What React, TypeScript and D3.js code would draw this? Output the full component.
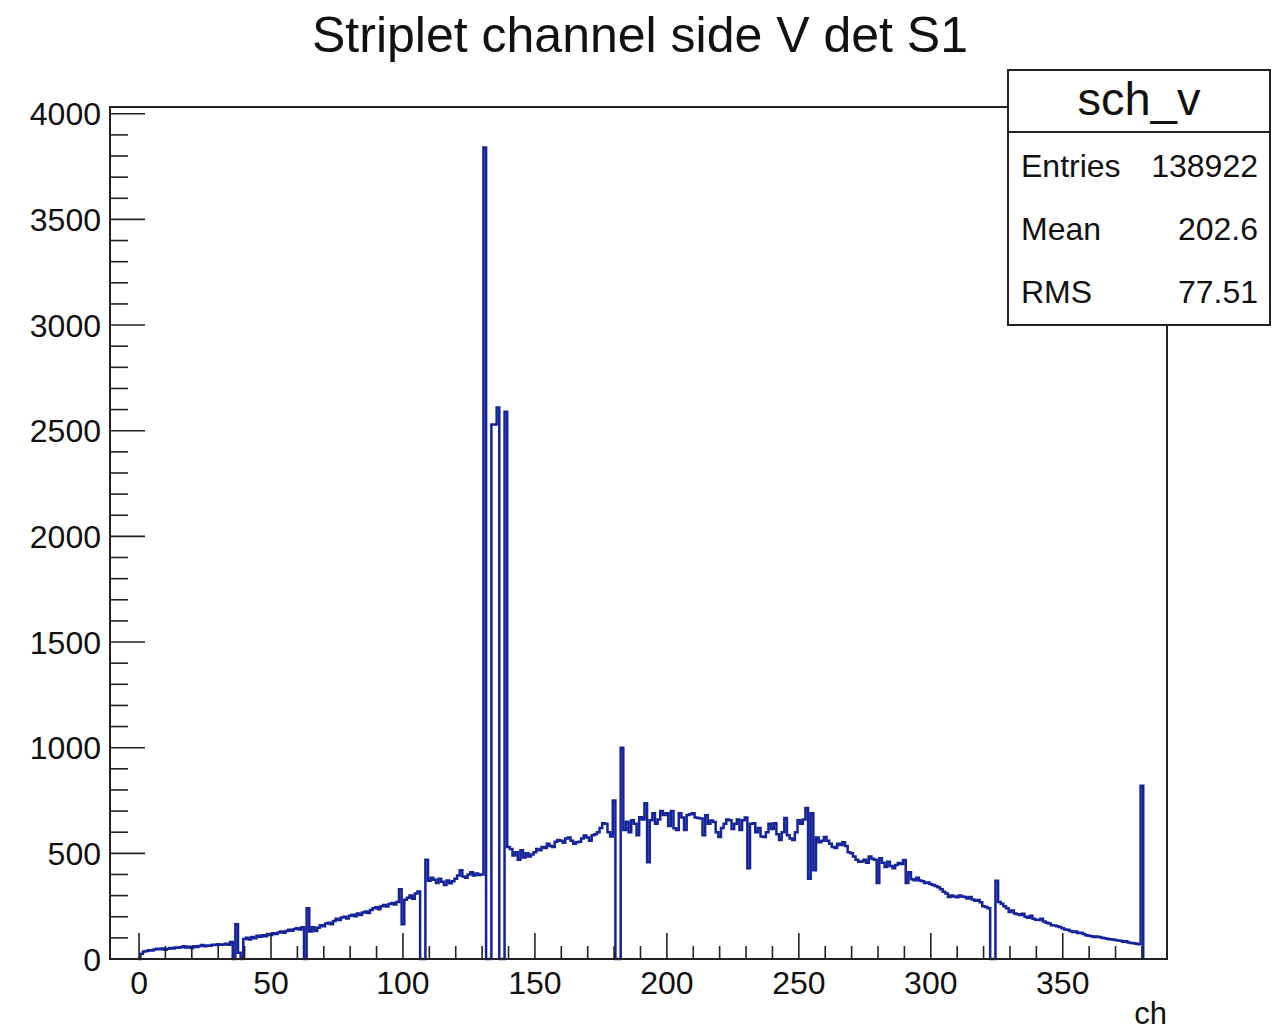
import React from "react";
import * as d3 from "d3";

const title = "Striplet channel side V det S1";
const histName = "sch_v";
const statLabels = ["Entries", "Mean", "RMS"];
const statValues = ["138922", "202.6", "77.51"];
const xTicksMajor = [0, 50, 100, 150, 200, 250, 300, 350];
const yTicksMajor = [0, 500, 1000, 1500, 2000, 2500, 3000, 3500, 4000];
const xTitle = "ch";

// counts per channel, channel 0 .. 380
const counts = [
  0, 25, 35, 38, 42, 40, 45, 48, 46, 50,
  44, 48, 52, 50, 55, 53, 56, 60, 54, 58,
  52, 60, 57, 62, 66, 60, 64, 63, 68, 66,
  70, 67, 69, 72, 68, 80, 0, 165, 30, 0,
  95, 100, 92, 104, 98, 110, 105, 112, 108, 118,
  114, 122, 118, 126, 130, 124, 132, 138, 134, 142,
  146, 140, 150, 0, 240, 130, 150, 132, 148, 160,
  155, 168, 172, 165, 180, 190, 185, 196, 200, 192,
  205, 210, 202, 215, 208, 220, 225, 218, 232, 240,
  245, 236, 250, 255, 248, 260, 265, 258, 270, 330,
  165, 280, 290, 300, 285, 310, 320, 0, 0, 470,
  370, 385, 375, 360, 380, 365, 350, 372, 358, 368,
  380, 395, 420, 390, 385, 400, 410, 395, 405, 398,
  400, 3840, 0, 0, 2530, 2530, 2610, 0, 0, 2590,
  530, 520, 490, 505, 470, 515, 480, 500, 485, 495,
  505, 520, 515, 530, 525, 545, 535, 530, 555, 563,
  560, 550, 570, 575, 560, 545, 553, 555, 570, 585,
  575, 560, 586, 590, 600, 620, 642, 640, 600, 580,
  750, 0, 0, 1000, 610, 650, 600, 657, 640, 586,
  671, 660, 737, 458, 657, 690, 640, 660, 700, 681,
  690, 630, 700, 619, 610, 690, 670, 610, 681, 685,
  690, 670, 667, 665, 586, 680, 640, 655, 648, 600,
  577, 620, 640, 660, 657, 615, 640, 660, 610, 657,
  670, 430, 640, 643, 600, 620, 580, 577, 600, 640,
  615, 643, 590, 563, 600, 667, 586, 570, 563, 600,
  657, 640, 660, 715, 380, 690, 420, 575, 553, 560,
  577, 560, 545, 530, 525, 545, 540, 553, 535, 505,
  500, 485, 470, 460, 462, 470, 455, 485, 475, 470,
  360, 477, 455, 435, 460, 440, 430, 445, 454, 450,
  468, 360, 410, 378, 373, 385, 372, 368, 360, 362,
  355, 350, 345, 340, 330, 318, 310, 293, 300, 296,
  292, 300, 296, 293, 286, 294, 282, 276, 279, 268,
  250, 246, 240, 0, 0, 370, 270, 262, 250, 240,
  222, 230, 215, 212, 208, 214, 200, 195, 205, 190,
  186, 184, 190, 178, 172, 168, 160, 158, 155, 151,
  145, 140, 138, 132, 128, 130, 123, 124, 118, 112,
  110, 108, 104, 106, 104, 100, 98, 96, 94, 92,
  90, 88, 86, 82, 84, 78, 76, 74, 72, 70,
  820,
];

const FONT = "'Liberation Sans', Arial, Helvetica, sans-serif";

export default function App() {
  const W = 1271, H = 1031;
  const x = d3.scaleLinear().domain([-11, 389.5]).range([110, 1167]);
  const y = d3.scaleLinear().domain([0, 4032]).range([959, 107]);

  const pts: [number, number][] = [];
  pts.push([x(-0.5), y(0)]);
  counts.forEach((v, i) => {
    pts.push([x(i - 0.5), y(v)]);
    pts.push([x(i + 0.5), y(v)]);
  });
  pts.push([x(counts.length - 0.5), y(0)]);
  const line = d3.line<[number, number]>().x((d) => d[0]).y((d) => d[1]);
  const path = line(pts) || "";

  const xMinor = d3.range(-10, 390, 10).filter((t) => x(t) > 114 && x(t) < 1163 && t % 50 !== 0);
  const yMinor = d3.range(0, 4001, 100).filter((t) => t % 500 !== 0);

  const frameL = 110, frameR = 1167, frameT = 107, frameB = 959;

  return (
    <svg width={W} height={H} style={{ position: "absolute", left: 0, top: 0, background: "#fff" }} fontFamily={FONT}>
      <rect x={0} y={0} width={W} height={H} fill="#fff" />
      <text x={640} y={52} textAnchor="middle" fontSize={50} fill="#111">{title}</text>

      {/* histogram */}
      <path d={path} fill="none" stroke="#15239a" strokeWidth={2.5} strokeLinejoin="miter" />

      {/* frame */}
      <rect x={frameL} y={frameT} width={frameR - frameL} height={frameB - frameT} fill="none" stroke="#222" strokeWidth={2} />

      {/* x ticks */}
      {xTicksMajor.map((t) => (
        <g key={"xm" + t}>
          <line x1={x(t)} x2={x(t)} y1={frameB} y2={frameB - 26} stroke="#222" strokeWidth={1.6} />
          <text x={x(t)} y={994} textAnchor="middle" fontSize={32} fill="#111">{t}</text>
        </g>
      ))}
      {xMinor.map((t) => (
        <line key={"xn" + t} x1={x(t)} x2={x(t)} y1={frameB} y2={frameB - 13} stroke="#222" strokeWidth={1.6} />
      ))}
      <text x={1167} y={1024} textAnchor="end" fontSize={31} fill="#111">{xTitle}</text>

      {/* y ticks */}
      {yTicksMajor.map((t) => (
        <g key={"ym" + t}>
          <line x1={frameL} x2={frameL + 35} y1={y(t)} y2={y(t)} stroke="#222" strokeWidth={1.6} />
          <text x={101} y={y(t) + 11.5} textAnchor="end" fontSize={32} fill="#111">{t}</text>
        </g>
      ))}
      {yMinor.map((t) => (
        <line key={"yn" + t} x1={frameL} x2={frameL + 18} y1={y(t)} y2={y(t)} stroke="#222" strokeWidth={1.6} />
      ))}

      {/* stats box */}
      <rect x={1008} y={70} width={262} height={255} fill="#fff" stroke="#222" strokeWidth={2} />
      <line x1={1008} x2={1270} y1={132} y2={132} stroke="#222" strokeWidth={2} />
      <text x={1139} y={115} textAnchor="middle" fontSize={47} fill="#111">{histName}</text>
      {statLabels.map((s, i) => (
        <g key={s}>
          <text x={1021} y={177 + i * 63} fontSize={32} fill="#111">{s}</text>
          <text x={1258} y={177 + i * 63} textAnchor="end" fontSize={32} fill="#111">{statValues[i]}</text>
        </g>
      ))}
    </svg>
  );
}
